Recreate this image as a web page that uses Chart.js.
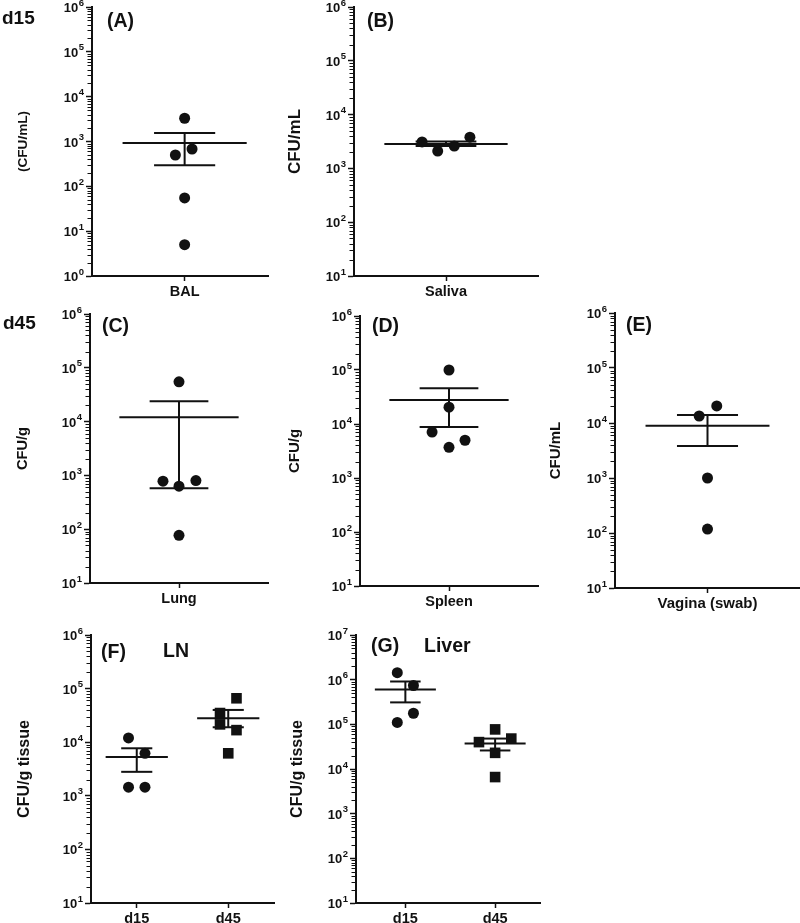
<!DOCTYPE html>
<html>
<head>
<meta charset="utf-8">
<script src="https://cdn.jsdelivr.net/npm/chart.js@4.4.1/dist/chart.umd.min.js"></script>
<style>
  body { margin: 0; background: #fff; }
  #figure { position: relative; width: 800px; height: 923px; overflow: hidden;
            font-family: 'Liberation Sans', Arial, sans-serif; font-weight: bold; color: #111; }
  #figure canvas { position: absolute; }
  .lbl { position: absolute; white-space: nowrap; line-height: 1; }
</style>
</head>
<body>
<div id="figure"></div>
<script>
// decade tick labels: "10" with the exponent raised (index = exponent)
const tickBase = '10';
const tickExponents = ['0', '1', '2', '3', '4', '5', '6', '7'];

// d15
const balCats = ['BAL'];
const balValues = [3300, 500, 680, 55, 5];
const balJitter = [0, -0.1, 0.08, 0, 0];
const balMeanSem = [920, 1550, 295];          // mean, mean+SEM, mean-SEM

const salivaCats = ['Saliva'];
const salivaValues = [3100, 2100, 2600, 3800];
const salivaJitter = [-0.26, -0.09, 0.09, 0.26];
const salivaMeanSem = [2850, 3150, 2600];

// d45
const lungCats = ['Lung'];
const lungValues = [55000, 780, 630, 800, 77];
const lungJitter = [0, -0.18, 0, 0.19, 0];
const lungMeanSem = [12000, 24000, 575];

const spleenCats = ['Spleen'];
const spleenValues = [100000, 20500, 7100, 3700, 5000];
const spleenJitter = [0, 0, -0.19, 0, 0.18];
const spleenMeanSem = [27800, 46000, 8800];

const vaginaCats = ['Vagina (swab)'];
const vaginaValues = [20400, 13400, 1000, 118];
const vaginaJitter = [0.1, -0.09, 0, 0];
const vaginaMeanSem = [8900, 14000, 3800];

// LN and liver, d15 vs d45
const dayCats = ['d15', 'd45'];
const lnD15Values = [12000, 6200, 1450, 1450];
const lnD15Jitter = [-0.09, 0.09, -0.09, 0.09];
const lnD15MeanSem = [5300, 7700, 2800];
const lnD45Values = [66000, 35000, 21500, 16800, 6200];
const lnD45Jitter = [0.09, -0.09, -0.09, 0.09, 0];
const lnD45MeanSem = [28000, 40000, 19000];

const liverD15Values = [1430000, 740000, 177000, 110000];
const liverD15Jitter = [-0.09, 0.09, 0.09, -0.09];
const liverD15MeanSem = [600000, 910000, 310000];
const liverD45Values = [77000, 40000, 48000, 23000, 6600];
const liverD45Jitter = [0, -0.18, 0.18, 0, 0];
const liverD45MeanSem = [37000, 48000, 26000];

const INK = '#111';
const FONT = "'Liberation Sans', Arial, sans-serif";

// box = [y-axis x, x-axis right end, top of y axis, x-axis y]
const panels = [
  { box: [92, 268, 7, 276], titleX: 23, titleSize: 13.6, y: [1, 1e6], x: [-1, 0.9], title: '(CFU/mL)', cats: balCats,
    groups: [[balValues, balJitter, balMeanSem, 'circle']], half: [0.67, 0.33] },
  { box: [354, 538, 7, 276], titleX: 295, titleSize: 17, y: [10, 1e6], x: [-1, 1], title: 'CFU/mL', cats: salivaCats,
    groups: [[salivaValues, salivaJitter, salivaMeanSem, 'circle']], half: [0.67, 0.33] },
  { box: [90, 268, 314, 583], titleX: 23, titleSize: 14.6, y: [10, 1e6], x: [-1, 1], title: 'CFU/g', cats: lungCats,
    groups: [[lungValues, lungJitter, lungMeanSem, 'circle']], half: [0.67, 0.33] },
  { box: [360, 538, 316, 586], titleX: 295, titleSize: 15, y: [10, 1e6], x: [-1, 1], title: 'CFU/g', cats: spleenCats,
    groups: [[spleenValues, spleenJitter, spleenMeanSem, 'circle']], half: [0.67, 0.33] },
  { box: [615, 800, 313, 588], titleX: 556, titleSize: 15, y: [10, 1e6], x: [-1, 1], title: 'CFU/mL', cats: vaginaCats,
    groups: [[vaginaValues, vaginaJitter, vaginaMeanSem, 'circle']], half: [0.67, 0.33] },
  { box: [91, 274, 635, 903], titleX: 25, titleSize: 16, y: [10, 1e6], x: [-0.5, 1.5], title: 'CFU/g tissue', cats: dayCats,
    groups: [[lnD15Values, lnD15Jitter, lnD15MeanSem, 'circle'], [lnD45Values, lnD45Jitter, lnD45MeanSem, 'rect']],
    half: [0.34, 0.17] },
  { box: [356, 540, 635, 903], titleX: 298, titleSize: 16, y: [10, 1e7], x: [-0.55, 1.5], title: 'CFU/g tissue', cats: dayCats,
    groups: [[liverD15Values, liverD15Jitter, liverD15MeanSem, 'circle'], [liverD45Values, liverD45Jitter, liverD45MeanSem, 'rect']],
    half: [0.34, 0.17] }
];

const texts = [
  ['d15', 2, 17, 19], ['d45', 3, 322, 19],
  ['(A)', 107, 21, 19.5], ['(B)', 367, 21, 19.5],
  ['(C)', 102, 326, 19.5], ['(D)', 372, 326, 19.5], ['(E)', 626, 325, 19.5],
  ['(F)', 101, 652, 19.5], ['LN', 163, 651, 19.5],
  ['(G)', 371, 646, 19.5], ['Liver', 424, 646, 19.5]
];

function isDecade(v) {
  const l = Math.log10(v);
  return Math.abs(l - Math.round(l)) < 1e-9;
}

function logTicks(min, max) {
  const out = [];
  for (let e = Math.round(Math.log10(min)); e < Math.round(Math.log10(max)); e++) {
    for (let m = 1; m < 10; m++) out.push({ value: m * Math.pow(10, e) });
  }
  out.push({ value: max });
  return out;
}

// short ticks between decades, and the 10^n labels
const logAxisExtras = {
  id: 'logAxisExtras',
  afterDraw(chart) {
    const y = chart.scales.y, ctx = chart.ctx;
    ctx.save();
    ctx.strokeStyle = INK;
    ctx.fillStyle = INK;
    ctx.lineWidth = 1;
    y.ticks.forEach(t => {
      const py = y.getPixelForValue(t.value);
      if (!isDecade(t.value)) {
        const sy = Math.round(py) + 0.5;
        ctx.beginPath();
        ctx.moveTo(y.right - 4.5, sy);
        ctx.lineTo(y.right, sy);
        ctx.stroke();
        return;
      }
      const exp = tickExponents[Math.round(Math.log10(t.value))];
      const xr = y.right - 8;
      ctx.textAlign = 'right';
      ctx.textBaseline = 'middle';
      ctx.font = 'bold 9.5px ' + FONT;
      ctx.fillText(exp, xr, py - 4);
      const ew = ctx.measureText(exp).width;
      ctx.font = 'bold 13px ' + FONT;
      ctx.fillText(tickBase, xr - ew - 0.5, py + 1.5);
    });
    ctx.restore();
  }
};

function segment(x1, x2, y1, y2) {
  return {
    data: [{ x: x1, y: y1 }, { x: x2, y: y2 }],
    showLine: true, borderColor: INK, borderWidth: 2, pointRadius: 0
  };
}

function drawPanel(p) {
  const fig = document.getElementById('figure');
  const left = p.titleX - 10, top = p.box[2] - 12;
  const width = p.box[1] + 1 - left, height = p.box[3] + 30 - top;
  const yWidth = p.box[0] - left;

  const canvas = document.createElement('canvas');
  canvas.width = width;
  canvas.height = height;
  canvas.style.left = left + 'px';
  canvas.style.top = top + 'px';
  canvas.style.width = width + 'px';
  canvas.style.height = height + 'px';
  fig.appendChild(canvas);

  const datasets = [];
  p.groups.forEach((g, gi) => {
    const [values, jitter, ms, shape] = g;
    datasets.push({
      data: values.map((v, i) => ({ x: gi + jitter[i], y: v })),
      pointStyle: shape,
      pointRadius: shape === 'rect' ? 7.5 : 5.5,
      backgroundColor: INK, borderWidth: 0
    });
  });
  p.groups.forEach((g, gi) => {
    const ms = g[2];
    datasets.push(segment(gi - p.half[0], gi + p.half[0], ms[0], ms[0]));
    datasets.push(segment(gi - p.half[1], gi + p.half[1], ms[1], ms[1]));
    datasets.push(segment(gi - p.half[1], gi + p.half[1], ms[2], ms[2]));
    datasets.push(segment(gi, gi, ms[2], ms[1]));
  });

  new Chart(canvas, {
    type: 'scatter',
    data: { datasets: datasets },
    plugins: [logAxisExtras],
    options: {
      responsive: false,
      animation: false,
      devicePixelRatio: 1,
      layout: { autoPadding: false, padding: { top: 12, left: 0, right: 1, bottom: 0 } },
      plugins: { legend: { display: false }, tooltip: { enabled: false } },
      scales: {
        x: {
          type: 'linear', min: p.x[0], max: p.x[1],
          afterBuildTicks: s => { s.ticks = p.cats.map((c, i) => ({ value: i })); },
          afterFit: s => { s.height = 30; },
          ticks: { callback: v => p.cats[v] ?? '', autoSkip: false, maxRotation: 0, padding: 2,
                   color: INK, font: { size: p.cats[0].length > 8 ? 15 : 14.5, weight: 'bold' } },
          grid: { drawOnChartArea: false, tickLength: 5, tickWidth: 1.5, tickColor: INK },
          border: { color: INK, width: 2 }
        },
        y: {
          type: 'logarithmic', min: p.y[0], max: p.y[1],
          afterBuildTicks: s => { s.ticks = logTicks(p.y[0], p.y[1]); },
          afterFit: s => { s.width = yWidth; },
          ticks: { callback: () => '', autoSkip: false, padding: 2 },
          grid: { drawOnChartArea: false, tickLength: 6, tickWidth: 1.5,
                  tickColor: c => (c.tick && isDecade(c.tick.value)) ? INK : 'rgba(0,0,0,0)' },
          border: { color: INK, width: 2 },
          title: { display: true, text: p.title, color: INK, font: { size: p.titleSize, weight: 'bold' },
                   padding: { top: 10 - p.titleSize * 0.6, bottom: 0 } }
        }
      }
    }
  });
}

Chart.defaults.font.family = FONT;
panels.forEach(drawPanel);

texts.forEach(t => {
  const d = document.createElement('div');
  d.className = 'lbl';
  d.textContent = t[0];
  d.style.left = t[1] + 'px';
  d.style.top = (t[2] - t[3] / 2) + 'px';
  d.style.fontSize = t[3] + 'px';
  document.getElementById('figure').appendChild(d);
});
</script>
</body>
</html>
